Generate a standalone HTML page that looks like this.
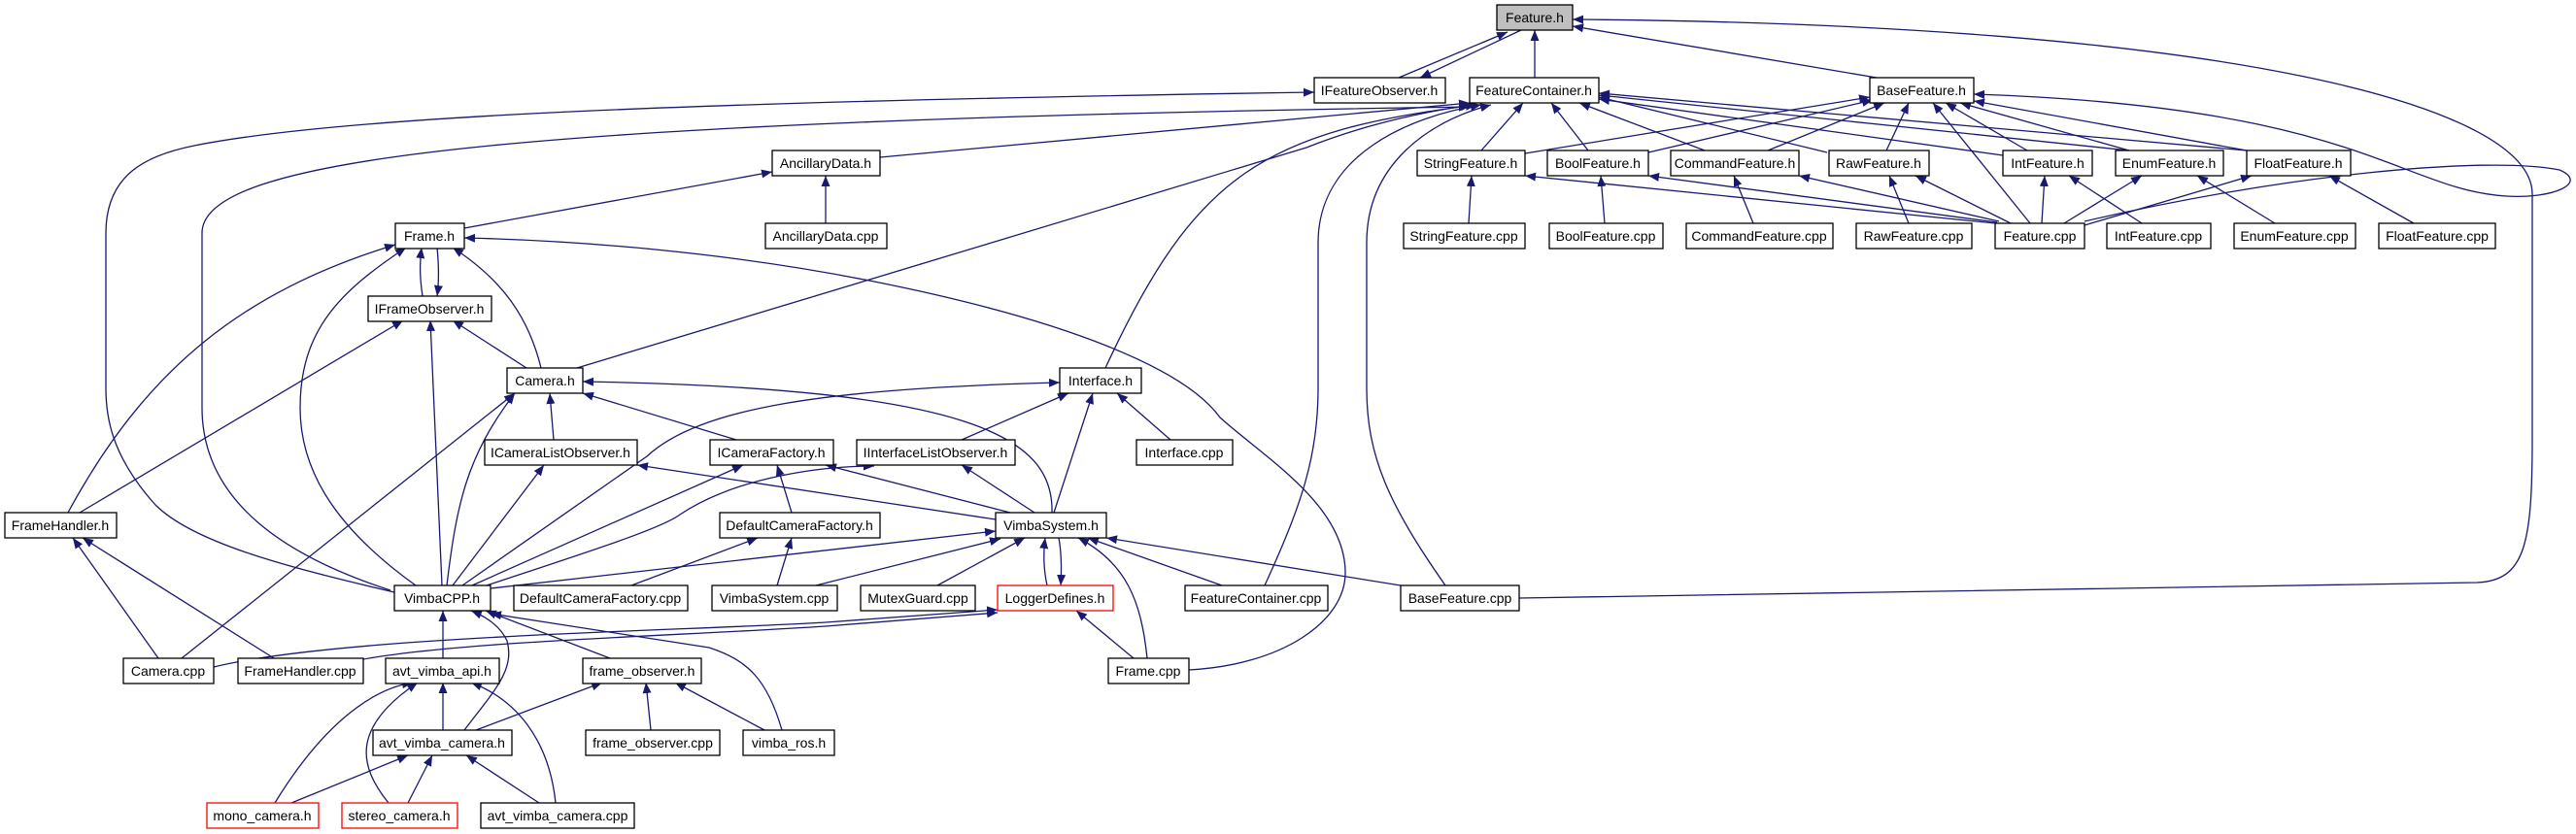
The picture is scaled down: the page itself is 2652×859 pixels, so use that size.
<!DOCTYPE html>
<html><head><meta charset="utf-8"><style>
html,body{margin:0;padding:0;background:#fff;}
svg{display:block;}
text{font-family:"Liberation Sans",sans-serif;font-size:14px;fill:#000;}
</style></head><body>
<svg width="2652" height="859" viewBox="0 0 2652 859" xmlns="http://www.w3.org/2000/svg">
<defs>
<marker id="a" markerUnits="userSpaceOnUse" markerWidth="12" markerHeight="10" refX="11" refY="4.5" orient="auto">
<path d="M0,0 L11,4.5 L0,9 z" fill="#191970"/>
</marker>
</defs>
<g fill="none" stroke="#191970" stroke-width="1.3" marker-end="url(#a)">
<path d="M1440,80 L1552,33"/>
<path d="M1566,31 L1462,80"/>
<path d="M1580,80 L1580,31"/>
<path d="M1932,80 L1619,27"/>
<path d="M1564,616 L2550,600 C2600,598 2607,560 2607,450 L2607,200 C2607,110 2300,25 1619,20"/>
<path d="M2146,228 C2350,180 2560,160 2635,175 C2665,188 2630,205 2580,202 C2470,195 2430,110 2032,97"/>
<path d="M906,162 L1513,106"/>
<path d="M402,608 C300,575 208,520 208,420 L208,240 C208,165 500,125 1513,110"/>
<path d="M406,610 C300,585 200,560 160,520 C115,470 109,430 109,400 L109,240 C109,180 150,160 200,150 C350,120 700,105 1353,95"/>
<path d="M594,379 L1345,152 Q1420,122 1515,108"/>
<path d="M1138,379 C1230,180 1300,135 1520,108"/>
<path d="M1302,603 C1340,520 1357,470 1357,400 L1357,250 C1357,160 1450,120 1525,108"/>
<path d="M1488,603 C1430,520 1407,470 1407,400 L1407,250 C1407,170 1470,125 1535,108"/>
<path d="M1525,155 L1568,106"/>
<path d="M1635,155 L1597,106"/>
<path d="M1755,155 L1626,106"/>
<path d="M1881,157 L1646,100"/>
<path d="M2062,160 L1646,102"/>
<path d="M2192,155 L1646,98"/>
<path d="M2313,155 L1646,96"/>
<path d="M1570,158 L1925,100"/>
<path d="M1697,157 L1928,103"/>
<path d="M1820,155 L1940,106"/>
<path d="M1942,155 L1965,106"/>
<path d="M2087,155 L2003,106"/>
<path d="M2192,155 L2018,106"/>
<path d="M2313,155 L2032,104"/>
<path d="M2090,230 L1990,106"/>
<path d="M2054,230 L1570,181"/>
<path d="M2056,229 L1697,181"/>
<path d="M2058,228 L1852,181"/>
<path d="M2070,230 L1972,181"/>
<path d="M2102,230 L2105,181"/>
<path d="M2125,230 L2205,181"/>
<path d="M2146,232 L2318,181"/>
<path d="M1512,230 L1515,181"/>
<path d="M1652,230 L1648,181"/>
<path d="M1805,230 L1785,181"/>
<path d="M1965,230 L1945,181"/>
<path d="M2205,230 L2130,181"/>
<path d="M2342,230 L2262,181"/>
<path d="M2485,230 L2398,181"/>
<path d="M850,230 L850,181"/>
<path d="M478,235 L795,177"/>
<path d="M435,305 C432,285 432,272 434,255"/>
<path d="M450,255 C452,275 452,290 450,305"/>
<path d="M557,379 C545,330 520,290 466,255"/>
<path d="M542,379 L466,330"/>
<path d="M70,528 C150,380 250,300 407,252"/>
<path d="M82,528 L415,330"/>
<path d="M428,603 C340,540 309,480 309,420 C309,340 350,300 418,255"/>
<path d="M455,603 L443,330"/>
<path d="M460,603 C470,520 480,470 530,405"/>
<path d="M187,678 L530,405"/>
<path d="M163,678 L75,554"/>
<path d="M282,678 L85,554"/>
<path d="M220,687 C350,655 700,650 850,641 L1027,628"/>
<path d="M374,679 C480,660 700,655 850,645 L1027,631"/>
<path d="M570,453 L566,405"/>
<path d="M758,453 L600,405"/>
<path d="M1083,528 C1085,450 1000,400 600,393"/>
<path d="M1085,528 L1125,405"/>
<path d="M990,453 L1100,405"/>
<path d="M1205,453 L1150,405"/>
<path d="M476,603 L666,470 C720,420 850,400 1091,394"/>
<path d="M466,603 L560,479"/>
<path d="M486,603 L765,479"/>
<path d="M495,605 C600,570 680,545 700,530 C760,490 850,480 900,480"/>
<path d="M505,606 L1025,547"/>
<path d="M1025,535 L656,479"/>
<path d="M1040,528 L850,479"/>
<path d="M1065,528 L990,479"/>
<path d="M815,528 L800,479"/>
<path d="M650,603 L780,554"/>
<path d="M800,603 L815,554"/>
<path d="M840,603 L1030,555"/>
<path d="M965,603 L1055,554"/>
<path d="M1078,603 C1074,585 1074,570 1076,554"/>
<path d="M1090,554 C1093,570 1093,585 1092,603"/>
<path d="M1181,678 C1175,620 1160,580 1110,554"/>
<path d="M1258,603 L1120,554"/>
<path d="M1442,603 L1139,554"/>
<path d="M1167,678 L1108,629"/>
<path d="M1224,690 C1320,685 1385,640 1385,590 C1385,520 1300,470 1256,430 C1220,380 1100,330 900,290 C750,260 600,248 478,245"/>
<path d="M456,678 L456,629"/>
<path d="M478,752 C510,710 530,690 522,660 C515,645 500,635 485,629"/>
<path d="M628,678 L500,629"/>
<path d="M805,752 C790,700 770,680 730,667 L505,632"/>
<path d="M456,752 L456,703"/>
<path d="M283,827 C330,750 380,710 425,703"/>
<path d="M400,827 C370,790 360,750 430,703"/>
<path d="M572,827 C565,760 530,720 485,703"/>
<path d="M490,752 L620,703"/>
<path d="M670,752 L665,703"/>
<path d="M787,752 L695,703"/>
<path d="M300,827 L420,778"/>
<path d="M420,827 L445,778"/>
<path d="M555,827 L480,778"/>
</g>
<g stroke="#000" stroke-width="1.3" fill="#fff">
<rect x="1541" y="5" width="78" height="26" fill="#bfbfbf"/>
<rect x="1353" y="80" width="135" height="26"/>
<rect x="1513" y="80" width="133" height="26"/>
<rect x="1925" y="80" width="107" height="26"/>
<rect x="795" y="155" width="111" height="26"/>
<rect x="1459" y="155" width="111" height="26"/>
<rect x="1593" y="155" width="104" height="26"/>
<rect x="1720" y="155" width="132" height="26"/>
<rect x="1883" y="155" width="103" height="26"/>
<rect x="2062" y="155" width="92" height="26"/>
<rect x="2178" y="155" width="111" height="26"/>
<rect x="2313" y="155" width="107" height="26"/>
<rect x="407" y="230" width="71" height="26"/>
<rect x="788" y="230" width="125" height="26"/>
<rect x="1445" y="230" width="125" height="26"/>
<rect x="1595" y="230" width="117" height="26"/>
<rect x="1736" y="230" width="151" height="26"/>
<rect x="1911" y="230" width="119" height="26"/>
<rect x="2054" y="230" width="92" height="26"/>
<rect x="2169" y="230" width="107" height="26"/>
<rect x="2300" y="230" width="125" height="26"/>
<rect x="2449" y="230" width="120" height="26"/>
<rect x="379" y="305" width="127" height="26"/>
<rect x="522" y="379" width="78" height="26"/>
<rect x="1091" y="379" width="84" height="26"/>
<rect x="499" y="453" width="157" height="26"/>
<rect x="731" y="453" width="127" height="26"/>
<rect x="882" y="453" width="163" height="26"/>
<rect x="1170" y="453" width="99" height="26"/>
<rect x="5" y="528" width="115" height="26"/>
<rect x="741" y="528" width="165" height="26"/>
<rect x="1025" y="528" width="114" height="26"/>
<rect x="406" y="603" width="99" height="26"/>
<rect x="529" y="603" width="179" height="26"/>
<rect x="733" y="603" width="129" height="26"/>
<rect x="886" y="603" width="118" height="26"/>
<rect x="1027" y="603" width="119" height="26" stroke="#f00"/>
<rect x="1220" y="603" width="147" height="26"/>
<rect x="1442" y="603" width="122" height="26"/>
<rect x="127" y="678" width="93" height="26"/>
<rect x="245" y="678" width="129" height="26"/>
<rect x="397" y="678" width="117" height="26"/>
<rect x="600" y="678" width="122" height="26"/>
<rect x="1141" y="678" width="83" height="26"/>
<rect x="384" y="752" width="143" height="26"/>
<rect x="603" y="752" width="138" height="26"/>
<rect x="765" y="752" width="94" height="26"/>
<rect x="213" y="827" width="115" height="26" stroke="#f00"/>
<rect x="352" y="827" width="119" height="26" stroke="#f00"/>
<rect x="495" y="827" width="158" height="26"/>
</g>
<g text-anchor="middle">
<text x="1580" y="23">Feature.h</text>
<text x="1420" y="98">IFeatureObserver.h</text>
<text x="1579" y="98">FeatureContainer.h</text>
<text x="1978" y="98">BaseFeature.h</text>
<text x="850" y="173">AncillaryData.h</text>
<text x="1514" y="173">StringFeature.h</text>
<text x="1645" y="173">BoolFeature.h</text>
<text x="1786" y="173">CommandFeature.h</text>
<text x="1934" y="173">RawFeature.h</text>
<text x="2108" y="173">IntFeature.h</text>
<text x="2233" y="173">EnumFeature.h</text>
<text x="2366" y="173">FloatFeature.h</text>
<text x="442" y="248">Frame.h</text>
<text x="850" y="248">AncillaryData.cpp</text>
<text x="1507" y="248">StringFeature.cpp</text>
<text x="1653" y="248">BoolFeature.cpp</text>
<text x="1811" y="248">CommandFeature.cpp</text>
<text x="1970" y="248">RawFeature.cpp</text>
<text x="2100" y="248">Feature.cpp</text>
<text x="2222" y="248">IntFeature.cpp</text>
<text x="2362" y="248">EnumFeature.cpp</text>
<text x="2509" y="248">FloatFeature.cpp</text>
<text x="442" y="323">IFrameObserver.h</text>
<text x="561" y="397">Camera.h</text>
<text x="1133" y="397">Interface.h</text>
<text x="577" y="471">ICameraListObserver.h</text>
<text x="794" y="471">ICameraFactory.h</text>
<text x="963" y="471">IInterfaceListObserver.h</text>
<text x="1219" y="471">Interface.cpp</text>
<text x="62" y="546">FrameHandler.h</text>
<text x="823" y="546">DefaultCameraFactory.h</text>
<text x="1082" y="546">VimbaSystem.h</text>
<text x="455" y="621">VimbaCPP.h</text>
<text x="618" y="621">DefaultCameraFactory.cpp</text>
<text x="797" y="621">VimbaSystem.cpp</text>
<text x="945" y="621">MutexGuard.cpp</text>
<text x="1086" y="621">LoggerDefines.h</text>
<text x="1293" y="621">FeatureContainer.cpp</text>
<text x="1503" y="621">BaseFeature.cpp</text>
<text x="173" y="696">Camera.cpp</text>
<text x="309" y="696">FrameHandler.cpp</text>
<text x="455" y="696">avt_vimba_api.h</text>
<text x="661" y="696">frame_observer.h</text>
<text x="1182" y="696">Frame.cpp</text>
<text x="455" y="770">avt_vimba_camera.h</text>
<text x="672" y="770">frame_observer.cpp</text>
<text x="812" y="770">vimba_ros.h</text>
<text x="270" y="845">mono_camera.h</text>
<text x="411" y="845">stereo_camera.h</text>
<text x="574" y="845">avt_vimba_camera.cpp</text>
</g>
</svg>
</body></html>
